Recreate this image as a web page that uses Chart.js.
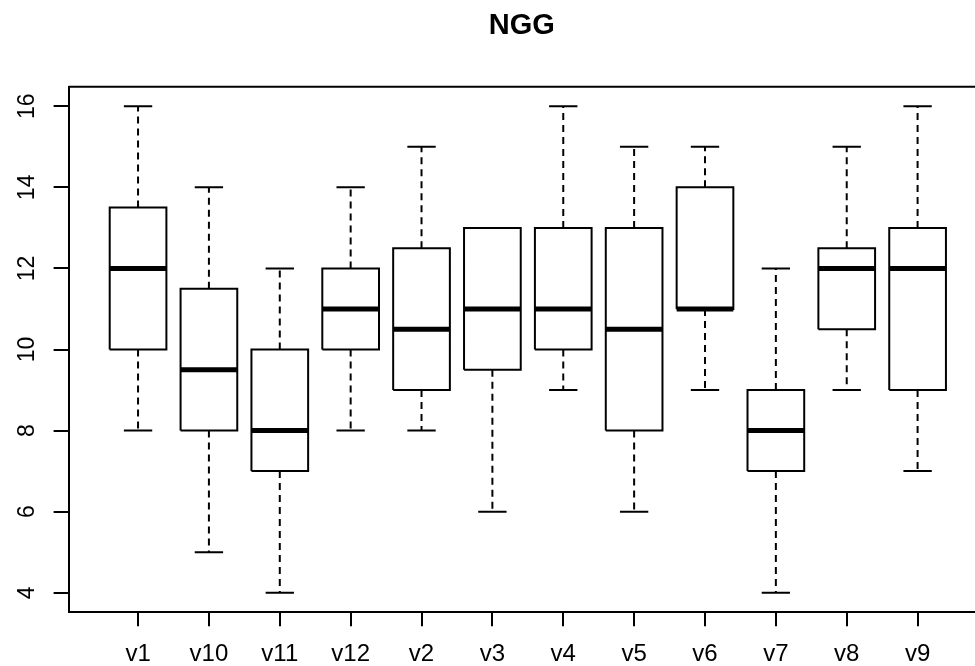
<!DOCTYPE html>
<html>
<head>
<meta charset="utf-8">
<script src="https://cdn.jsdelivr.net/npm/chart.js@4.4.1/dist/chart.umd.min.js"></script>
<style>
  html, body { margin: 0; padding: 0; background: #fff; overflow: hidden; }
  /* a bit taller than the window: the x labels get clipped at the bottom like the original */
  #wrap { width: 975px; height: 683px; }
</style>
</head>
<body>
<div id="wrap"><canvas id="box"></canvas></div>
<script>
// groups, in the order R sorted them
var categories = ['v1', 'v10', 'v11', 'v12', 'v2', 'v3', 'v4', 'v5', 'v6', 'v7', 'v8', 'v9'];
// five number summaries
var mins    = [8,    5,    4,  8,  8,    6,   9,  6,    9,  4,  9,    7];
var q1s     = [10,   8,    7,  10, 9,    9.5, 10, 8,    11, 7,  10.5, 9];
var medians = [12,   9.5,  8,  11, 10.5, 11,  11, 10.5, 11, 8,  12,   12];
var q3s     = [13.5, 11.5, 10, 12, 12.5, 13,  13, 13,   14, 9,  12.5, 13];
var maxs    = [16,   14,   12, 14, 15,   13,  16, 15,   15, 12, 15,   16];
var yTicks  = [4, 6, 8, 10, 12, 14, 16];

var boxHalf = 0.4;   // boxwex 0.8
var capHalf = 0.2;   // staple

var whiskers = [], caps = [], boxes = [], meds = [];
categories.forEach(function (c, k) {
    var i = k + 1;
    whiskers.push({x: i, y: q1s[k]}, {x: i, y: mins[k]}, {x: i, y: null});
    whiskers.push({x: i, y: q3s[k]}, {x: i, y: maxs[k]}, {x: i, y: null});
    caps.push({x: i - capHalf, y: mins[k]}, {x: i + capHalf, y: mins[k]}, {x: i, y: null});
    caps.push({x: i - capHalf, y: maxs[k]}, {x: i + capHalf, y: maxs[k]}, {x: i, y: null});
    boxes.push({x: i - boxHalf, y: q1s[k]}, {x: i + boxHalf, y: q1s[k]},
               {x: i + boxHalf, y: q3s[k]}, {x: i - boxHalf, y: q3s[k]},
               {x: i - boxHalf, y: q1s[k]}, {x: i, y: null});
    meds.push({x: i - boxHalf, y: medians[k]}, {x: i + boxHalf, y: medians[k]}, {x: i, y: null});
});

function seg(data, width, dash) {
    return {
        data: data,
        showLine: true,
        spanGaps: false,
        borderColor: '#000',
        borderWidth: width,
        borderDash: dash || [],
        borderCapStyle: 'butt',
        borderJoinStyle: 'miter',
        pointRadius: 0,
        fill: false
    };
}

// top edge of the frame (left/bottom come from the axes)
var frameTop = {
    id: 'frameTop',
    afterDraw: function (chart) {
        var a = chart.chartArea, ctx = chart.ctx;
        ctx.save();
        ctx.strokeStyle = '#000';
        ctx.lineWidth = 2;
        ctx.beginPath();
        ctx.moveTo(a.left, a.top);
        ctx.lineTo(a.right, a.top);
        ctx.stroke();
        ctx.restore();
    }
};

var ctx = document.getElementById('box').getContext('2d');
var boxChart = new Chart(ctx, {
    type: 'scatter',
    data: {
        datasets: [
            seg(whiskers, 2, [7, 5]),
            seg(caps, 2),
            seg(boxes, 2),
            seg(meds, 5)
        ]
    },
    options: {
        responsive: true,
        maintainAspectRatio: false,
        animation: false,
        layout: { padding: { left: 0, right: 0, top: 0, bottom: 0 } },
        plugins: {
            legend: { display: false },
            tooltip: { enabled: false },
            title: {
                display: true,
                fullSize: false,
                text: 'NGG',
                color: '#000',
                font: { family: 'Liberation Sans', size: 29, weight: 'bold' },
                padding: { top: 9, bottom: 43 }
            }
        },
        scales: {
            x: {
                type: 'linear',
                min: 0.02,
                max: 12.81,
                afterBuildTicks: function (axis) {
                    axis.ticks = categories.map(function (c, k) { return { value: k + 1 }; });
                },
                ticks: {
                    color: '#000',
                    font: { family: 'Liberation Sans', size: 24 },
                    padding: 14,
                    maxRotation: 0,
                    autoSkip: false,
                    callback: function (v) { return categories[v - 1]; }
                },
                grid: { display: true, drawOnChartArea: false, drawTicks: true, tickLength: 14, color: '#000', lineWidth: 2 },
                border: { display: true, color: '#000', width: 2 }
            },
            y: {
                min: 3.52,
                max: 16.48,
                afterBuildTicks: function (axis) {
                    axis.ticks = yTicks.map(function (v) { return { value: v }; });
                },
                ticks: {
                    color: '#000',
                    font: { family: 'Liberation Sans', size: 23 },
                    padding: 13,
                    minRotation: 90,
                    maxRotation: 90,
                    crossAlign: 'center'
                },
                grid: { display: true, drawOnChartArea: false, drawTicks: true, tickLength: 15, color: '#000', lineWidth: 2 },
                border: { display: true, color: '#000', width: 2 }
            }
        }
    },
    plugins: [frameTop]
});
</script>
</body>
</html>
